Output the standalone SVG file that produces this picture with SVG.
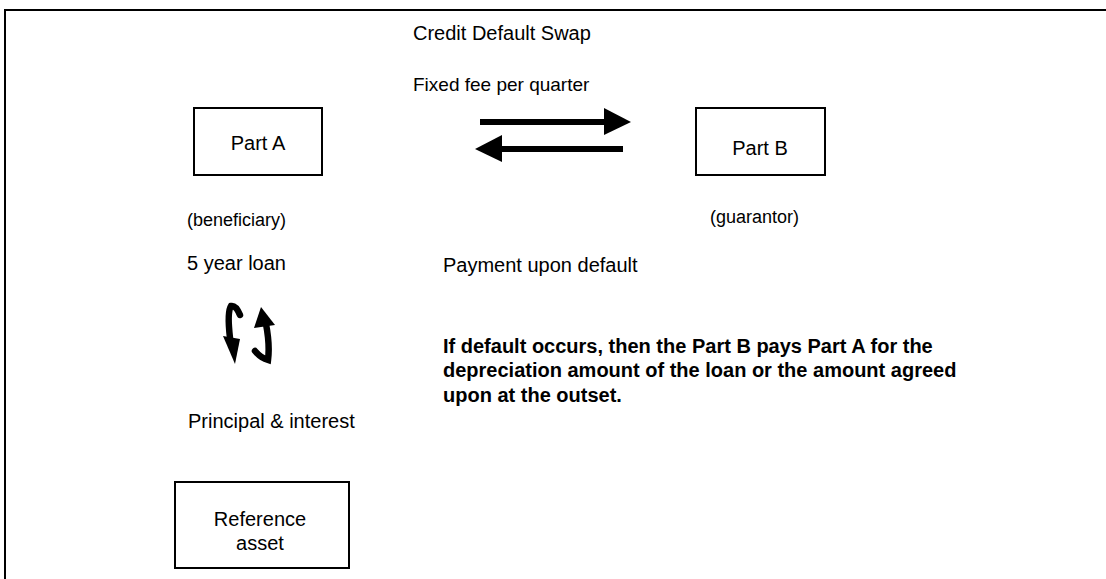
<svg xmlns="http://www.w3.org/2000/svg" width="1106" height="579" viewBox="0 0 1106 579">
<style>
text{font-family:"Liberation Sans",Arial,sans-serif;font-size:20px;fill:#000}
.c{text-anchor:middle}
.b{font-weight:bold}
.box{fill:#fff;stroke:#000;stroke-width:2}
.sh{stroke:#000;stroke-width:6;fill:none}
.cv{stroke:#000;stroke-width:6.5;fill:none;stroke-linecap:round}
</style>
<rect width="1106" height="579" fill="#fff"/>
<path d="M5,579 V10 H1106" fill="none" stroke="#000" stroke-width="2"/>
<text x="413" y="40">Credit Default Swap</text>
<text x="413" y="91" style="font-size:19px">Fixed fee per quarter</text>
<g id="partA"><rect class="box" x="194" y="108" width="128" height="67"/><text class="c" x="258" y="150">Part A</text></g>
<g id="partB"><rect class="box" x="696" y="108" width="129" height="67"/><text class="c" x="760" y="155">Part B</text></g>
<g id="refAsset"><rect class="box" x="175" y="482" width="174" height="86"/><text class="c" x="260" y="526">Reference</text><text class="c" x="260" y="550">asset</text></g>
<g id="connectors">
<line class="sh" x1="480" y1="122" x2="606" y2="122"/>
<polygon points="604,108 631,122 604,135"/>
<line class="sh" x1="500" y1="149" x2="623" y2="149"/>
<polygon points="502,135 475,149 502,162"/>
<path class="cv" d="M240,315 Q236,305 231,306 Q227,312 230,338"/>
<polygon points="223,336 240,339 235,364"/>
<polygon points="261,307 254,328 275,325"/>
<path class="cv" d="M266,324 Q270,345 268,360 Q261,358 255,351"/>
</g>
<text x="187" y="226" style="font-size:18px">(beneficiary)</text>
<text x="710" y="223" style="font-size:18px">(guarantor)</text>
<text x="187" y="270">5 year loan</text>
<text x="443" y="272">Payment upon default</text>
<text class="b" x="443" y="353">If default occurs, then the Part B pays Part A for the</text>
<text class="b" x="443" y="377">depreciation amount of the loan or the amount agreed</text>
<text class="b" x="443" y="402">upon at the outset.</text>
<text x="188" y="428">Principal &amp; interest</text>
</svg>
